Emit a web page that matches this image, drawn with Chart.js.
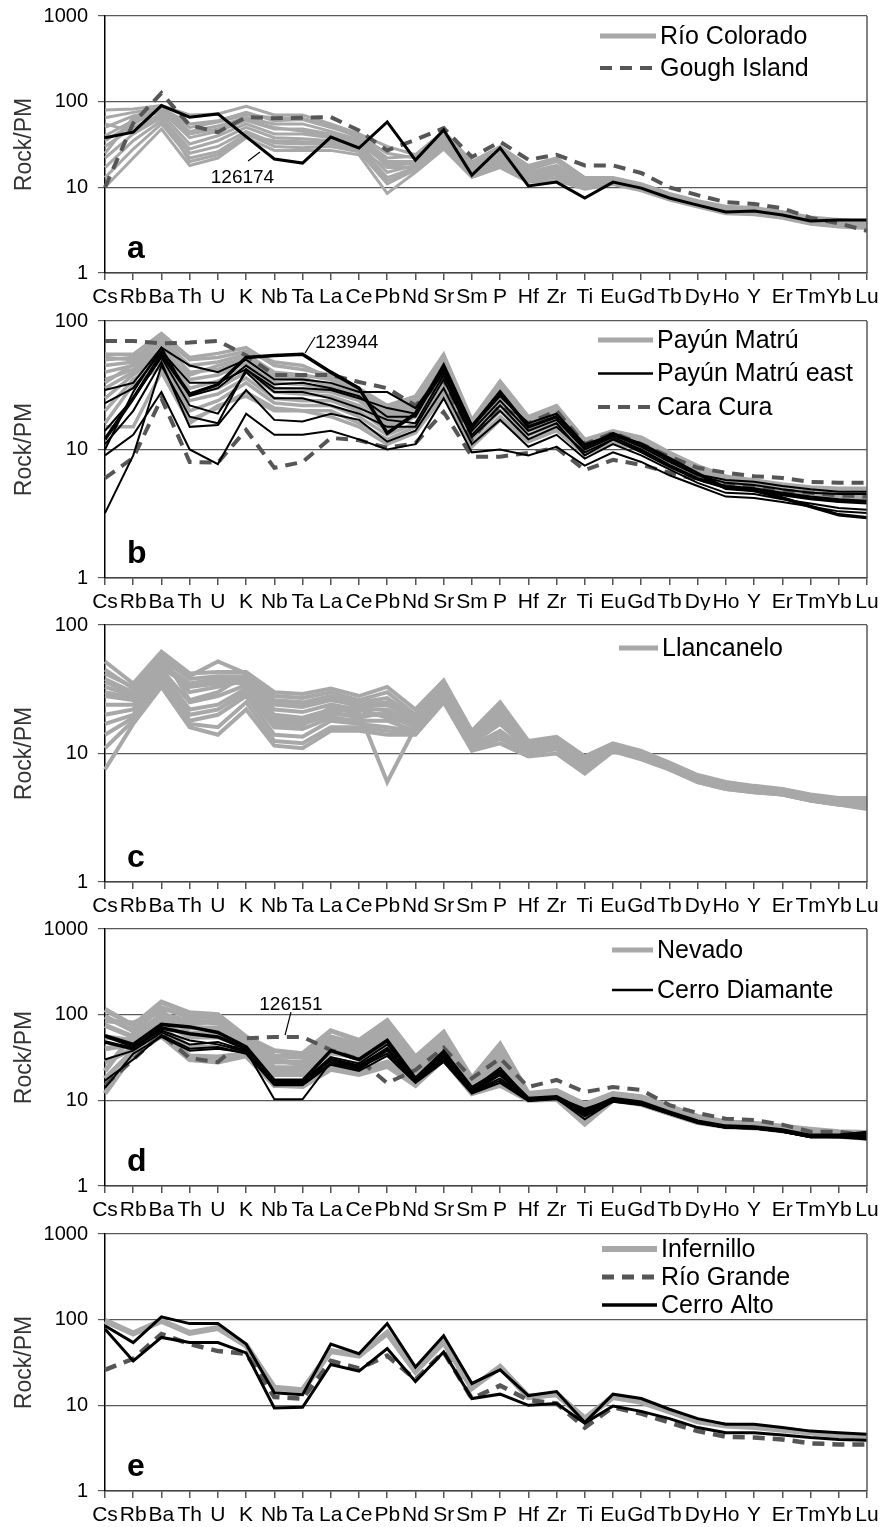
<!DOCTYPE html>
<html>
<head>
<meta charset="utf-8">
<script src="https://cdn.jsdelivr.net/npm/chart.js@4.4.1/dist/chart.umd.min.js"></script>
<style>
  html, body { margin: 0; padding: 0; background: #fff; }
  body { width: 882px; height: 1527px; position: relative; overflow: hidden; }
  .panel { position: absolute; left: 0; width: 882px; height: 320px; }
</style>
</head>
<body>
<div class="panel" style="top:0px"><canvas id="chartA" width="882" height="320"></canvas></div>
<div class="panel" style="top:305px"><canvas id="chartB" width="882" height="320"></canvas></div>
<div class="panel" style="top:609px"><canvas id="chartC" width="882" height="320"></canvas></div>
<div class="panel" style="top:913px"><canvas id="chartD" width="882" height="320"></canvas></div>
<div class="panel" style="top:1218px"><canvas id="chartE" width="882" height="320"></canvas></div>
<script>
const elements = ["Cs","Rb","Ba","Th","U","K","Nb","Ta","La","Ce","Pb","Nd","Sr","Sm","P","Hf","Zr","Ti","Eu","Gd","Tb","Dy","Ho","Y","Er","Tm","Yb","Lu"];
const decadeTicks = [1, 10, 100, 1000];

// --- panel a ---
const rioColorado = [
  [80,82,90,70,72,88,70,70,55,42,30,24,45,20,30,18,22,13,13,11,8.5,7,6,5.8,5.2,4.5,4.2,4],
  [65,75,85,55,60,75,60,62,50,40,25,22,42,18,28,16,20,12,12.5,10.5,8.2,6.8,5.8,5.6,5,4.3,4,3.9],
  [50,68,80,45,52,65,55,55,45,36,20,20,40,17,26,15,18,11.5,12,10.2,8,6.6,5.6,5.4,4.9,4.2,3.9,3.8],
  [40,60,78,38,45,60,48,48,42,34,18,19,38,16,24,14,17,11,11.8,10,7.8,6.5,5.5,5.3,4.8,4.1,3.8,3.7],
  [30,50,72,32,40,55,42,42,38,32,15,18,36,15,22,13.5,16,10.5,11.5,9.8,7.6,6.3,5.3,5.2,4.7,4,3.7,3.6],
  [22,42,65,28,35,50,38,37,35,30,13,17,34,15,21,13,15,10.2,11.3,9.6,7.5,6.2,5.2,5.1,4.6,3.9,3.6,3.5],
  [17,35,60,25,30,45,33,32,32,28,12,16,32,14,19,12.5,14,10,11.2,9.5,7.4,6.1,5.1,5,4.5,3.85,3.55,3.45],
  [13,28,55,22,26,42,30,29,30,26,11,16,30,13.5,18,12,13,9.8,11,9.3,7.3,6,5,4.9,4.45,3.8,3.5,3.4],
  [10,22,48,18,22,38,27,27,27,24,8.5,15,28,13,17,11.5,12,9.5,10.8,9.1,7.1,5.9,4.9,4.8,4.35,3.7,3.45,3.3],
  [35,55,82,50,58,70,65,64,52,38,22,23,44,19,29,17,21,12.5,12.8,10.8,8.3,6.9,5.9,5.7,5.1,4.4,4.1,3.9],
  [55,45,68,20,24,40,35,34,33,27,17,17,33,14,20,12.8,14.5,10.3,11.4,9.7,7.6,6.2,5.2,5,4.6,3.9,3.6,3.5],
  [25,65,75,42,48,62,50,45,40,33,19,19,37,16,23,14.5,17.5,11,11.8,10,7.8,6.4,5.4,5.3,4.8,4.1,3.8,3.65]
];
const goughIsland = [10,56,126,53,44,66,64,65,66,46,27,36,49,22.6,34,21,24,18,18,14.7,10,8.1,6.7,6.4,5.7,4.4,3.8,3.1];
const sample126174 = [38,44,90,66,72,39,21.4,19.2,38.6,28.8,58,20.8,46.7,13.9,28.8,10.4,11.5,7.5,11.5,9.8,7.5,6.2,5.15,5.3,4.75,4.05,4.15,4.15];

// --- panel b ---
const payunMatru = [
  [55,55,80,52,56,62,45,42,38,30,22,26,55,17,34,18,22,12,14,12.5,9.5,7.5,6.2,5.8,5.4,5.1,5,5],
  [50,52,72,45,48,55,40,38,35,28,20,24,50,16,31,17,21,11.5,13.5,12,9.2,7.2,6,5.6,5.2,4.9,4.8,4.8],
  [45,48,68,40,42,50,36,35,32,26,18,22,46,15,29,16,20,11,13,11.5,9,7,5.8,5.5,5.1,4.8,4.6,4.6],
  [40,45,65,35,38,47,33,32,30,25,17,21,43,14.5,27,15.5,19,10.8,12.8,11.3,8.8,6.8,5.7,5.4,5,4.7,4.5,4.5],
  [35,42,60,30,34,44,30,29,28,24,16,20,40,14,25,15,18,10.5,12.5,11,8.6,6.7,5.6,5.3,4.9,4.6,4.4,4.4],
  [30,40,56,27,30,40,28,27,26,22,15,19,37,13.5,24,14.5,17,10.2,12.2,10.8,8.5,6.6,5.5,5.2,4.8,4.5,4.3,4.3],
  [25,38,52,24,27,36,25,24,24,20,14,18,34,13,22,14,16.5,10,12,10.6,8.3,6.4,5.4,5.1,4.7,4.4,4.2,4.2],
  [20,35,48,20,24,33,23,22,22,18,13,16,31,12,20,13,16,9.8,11.8,10.4,8.1,6.3,5.3,5,4.6,4.3,4.1,4.1],
  [16,32,44,17,21,28,21,20,20,16,12,15,28,11,18,12,15,9.5,11.5,10.2,8,6.2,5.2,4.9,4.5,4.2,4,4],
  [52,50,76,50,52,58,48,45,36,29,21,25,52,16.5,32,17.5,21.5,11.8,13.8,12.2,9.3,7.3,6.1,5.7,5.3,5,4.9,4.9],
  [33,46,58,38,45,52,38,36,31,27,19,23,48,15.5,30,16.5,20.5,11.2,13.2,11.8,9,7,5.9,5.5,5.1,4.8,4.6,4.6],
  [15,15,40,16,22,26,20,20,18,15,11,13.5,26,10.5,17,11.5,14,9.2,11.2,10,7.9,6.1,5.1,4.8,4.5,4.2,4,4]
];
const payunMatruEast = [
  [29,33,62,45,40,50,35,35,33,28,28,21,42,15,26,16,19,11,13,10.5,8,6.3,5.5,5.3,4.9,4.6,4.5,4.5],
  [23,30,58,33,33,42,30,30,29,25,21,19,40,14,24,14,17,10,12.5,10,7.6,6,5.2,5,4.6,4.3,4.1,4],
  [14,25,52,22,19,40,25,25,22,19,15,15,35,12.5,20,12,15,9.5,12,9.5,7.3,5.8,5,4.8,4.4,4.1,3.9,3.8],
  [11,20,48,15,15.5,29,17,16.5,19,17,11.5,14,30,11,17,10.5,13,8.5,11,9,7,5.5,4.6,4.5,4.1,3.8,3.5,3.4],
  [9,13,28,10,7.7,19,13,13,14,12,10,11,25,9.5,10,9,10.5,7.5,9.5,8,6.3,5.2,4.3,4.2,3.9,3.6,3.3,3.2],
  [3.2,9,45,18,16,42,28,28,25,21,17,16,38,13,22,13,16,9,12,9.8,7.5,5.9,5.1,4.9,4.5,4.2,4,3.9],
  [10,28,62,26,30,45,32,33,30,26,18,18,43,15.5,27,15,18,10.5,13.5,11,8.3,6.4,5.8,5.6,5.2,4.9,4.7,4.7]
];
const sample123944 = [12,25,55,27,32,52,54,55,40,30,13.4,19,45,15,28,15,18,10.5,13,11,8.5,6.5,5,4.8,4.2,3.6,3.1,2.95];
const caraCura = [
  [70,70,67,68,70,54,38,38,38,33.5,30,22,35,12,22,16,20,11,13.5,11,8.8,7.2,6.6,6.2,6,5.6,5.5,5.5],
  [6,8.6,25,8,7.9,14.2,7.2,8,12.3,11.8,10.3,11.2,19.6,8.8,8.8,9.4,10.3,6.9,8.3,7.6,6.6,5.8,5.3,5.1,4.8,4.6,4.4,4.3]
];

// --- panel c ---
const llancanelo = [
  [52,35,62,42,43,43,30,29,32,28,33,22,37,15,25,12.5,13.5,9.5,12,10.5,8.5,6.8,6,5.6,5.3,4.8,4.5,4.5],
  [42,33,58,40,52,42,28,27,30,26,30,20,35,14.5,23,12,13,9.2,11.8,10.3,8.4,6.7,5.9,5.5,5.2,4.7,4.4,4.4],
  [38,30,55,38,40,40,26,25,28,25,27,19,34,14,21,11.8,12.8,9,11.6,10.1,8.3,6.6,5.8,5.4,5.1,4.6,4.3,4.3],
  [33,28,50,35,38,38,24,23,26,24,25,18,33,13.5,20,11.5,12.5,8.8,11.4,10,8.2,6.5,5.7,5.4,5.1,4.6,4.3,4.2],
  [28,26,48,33,35,36,22,21,24,22,22,17,32,13,19,11.2,12.2,8.6,11.2,9.8,8.1,6.4,5.6,5.3,5,4.5,4.2,4.1],
  [24,24,45,25,28,34,20,19,22,21,6,16,31,12.5,18,11,12,8.4,11,9.7,8,6.3,5.5,5.2,5,4.5,4.2,4],
  [20,22,42,22,24,32,18,17,20,20,20,16,30,12,17,10.8,11.8,8.2,10.9,9.6,7.9,6.3,5.5,5.2,4.9,4.4,4.1,4],
  [17,20,40,20,22,30,16,15.5,19,18,18,15,29,11.5,15,10.5,11.5,8,10.8,9.5,7.8,6.2,5.4,5.1,4.9,4.4,4.1,3.9],
  [14,19,38,18,20,28,14,13.5,18,17,16,15,28,11,14,10.2,11.2,7.8,10.6,9.3,7.7,6.1,5.4,5.1,4.8,4.3,4,3.9],
  [11,18,36,17,16,25,12.5,12,16,16,15,14.5,26,10.8,13,10,10.8,7.5,10.5,9.2,7.6,6,5.3,5,4.8,4.3,4,3.8],
  [7.5,17,33,16,14,22,11.5,11,15,15,14,14,25,10.5,12,9.5,10,7,10.4,9,7.5,6,5.3,5,4.8,4.3,4,3.7],
  [45,32,60,26,30,41,25,24,27,23,24,18,35,14,22,11.7,12.7,9,11.5,10.1,8.2,6.5,5.7,5.4,5.1,4.6,4.3,4.2],
  [30,27,52,30,33,37,19,18,21,19,21,17,33,13,20,11.4,12.4,8.7,11.3,9.9,8.1,6.4,5.6,5.3,5,4.5,4.2,4.1],
  [36,29,46,34,36,35,17,16.5,23,22,19,16.5,32,12.8,19,11,12,8.5,11.1,9.8,8,6.4,5.6,5.3,5,4.5,4.2,4.1]
];

// --- panel d ---
const nevado = [
  [115,75,140,105,100,55,38,35,65,50,85,32,62,18,45,12,13,9,12,11,8.5,6.5,5.6,5.4,5,4.6,4.3,4.2],
  [95,65,120,95,92,52,33,32,55,45,75,28,55,17,38,11.7,12.7,8.5,11.8,10.8,8.3,6.4,5.5,5.3,4.9,4.5,4.2,4.1],
  [75,55,100,85,80,48,28,28,48,40,65,26,50,16,32,11.5,12.5,8,11.5,10.5,8.1,6.3,5.4,5.2,4.8,4.4,4.1,4],
  [55,50,90,70,70,45,24,24,42,36,55,24,46,15.5,28,11.2,12.2,7.5,11.3,10.3,8,6.2,5.3,5.1,4.7,4.3,4,3.9],
  [40,45,80,55,55,42,20,20,36,32,45,22,42,15,25,11,12,7,11,10,7.8,6,5.2,5,4.6,4.2,3.95,3.85],
  [28,40,70,42,42,38,17,17,30,26,35,19,37,14,21,10.6,11.5,6.5,10.7,9.7,7.5,5.8,5.1,4.9,4.5,4.1,3.9,3.8],
  [18,38,62,33,32,35,15,15,25,22,28,16,32,13,17,10.3,10.8,5.5,10.3,9.3,7.2,5.6,5,4.8,4.4,4,3.8,3.65],
  [12,35,56,30,28,33,15,14.5,23,20,25,15,30,12,15,10,10.3,5.3,10,9,7,5.5,4.9,4.8,4.4,4,3.8,3.6],
  [85,80,110,60,62,50,30,26,50,42,60,25,48,16,30,11.4,12.3,7.8,11.4,10.4,8,6.2,5.3,5.1,4.7,4.3,4,3.9],
  [22,60,95,78,85,47,22,22,40,30,50,21,44,15,26,11,11.8,7.2,11.1,10.1,7.9,6.1,5.2,5,4.6,4.2,3.95,3.85]
];
const cerroDiamanteMain = [
  [57,45,77,72,62,42,17,17,38,30,50,18,37,14,22,10.5,11,7.5,10.5,9.5,7.3,5.7,5,4.9,4.5,3.9,3.9,4.2],
  [48,40,70,60,55,40,16,16,30,25,40,17,32,13,20,10.2,10.8,7,10,9.2,7.1,5.6,4.9,4.8,4.4,3.8,3.8,3.8]
];
const cerroDiamante = [
  [30,38,62,45,48,38,10.3,10.3,28,24,35,17,30,12.5,18,10,10.5,6,9.8,9,7,5.5,4.8,4.7,4.3,3.7,3.7,3.6],
  [17,30,58,40,42,35,15,15,26,22,33,16,28,12,16,9.8,10.3,6.5,9.6,8.8,6.9,5.4,4.8,4.7,4.3,3.7,3.7,3.5],
  [55,42,65,50,45,37,16.5,16.5,32,27,45,18,35,13.5,24,10.4,10.8,8,10.2,9.3,7.2,5.6,4.9,4.8,4.4,3.8,3.8,3.9],
  [14,35,55,38,40,36,15.5,15.5,27,23,38,16.5,29,12.2,17,9.9,10.4,6.8,9.7,8.9,7,5.5,4.8,4.7,4.3,3.7,3.7,3.6]
];
const sample126151 = [15,30,60,31,28,53,55,55,38.6,30,15.9,22.6,41,18,31,14.3,17.3,12.5,14.3,13.2,8.8,7.1,6.1,5.9,5.2,4.3,4.3,3.9];

// --- panel e ---
const infernillo = [97,69,97,70,80,50,16,15,43,38,70,25,55,16,28,12.5,13.5,7,12.5,11,8.5,6.5,5.8,5.6,5.2,4.8,4.5,4.3];
const rioGrande = [26,35,68,52,43,40,12.5,12,33,27,38,20,42,12,17,11.5,10.5,5.5,9.5,8,6.3,5,4.3,4.2,4,3.6,3.5,3.5];
const cerroAlto = [
  [85,54,108,90,90,52,14,13.3,52,40,90,28,65,18,26,13,14.5,6.3,13.5,12,9,7,6,6,5.5,5,4.8,4.6],
  [78,33,62,54,54,41,9.3,9.5,30,25,46,19,42,12,13.5,10,10.5,6.2,9.8,8.5,7,5.5,4.8,4.8,4.5,4.2,4,3.9]
];

const GREY = "#a8a8a8";
const DARK = "#565656";
const BLACK = "#000000";
const DASH = [12, 8];

Chart.defaults.font.family = "'Liberation Sans', Arial, sans-serif";
Chart.defaults.color = "#000";

const line = (data, color, width, dash, order) => ({
  data: data,
  borderColor: color,
  borderWidth: width,
  borderDash: dash || [],
  pointRadius: 0,
  tension: 0,
  fill: false,
  order: order,
});

// right border, panel letter, legend and sample notes
const panelDeco = {
  id: "panelDeco",
  afterDatasetsDraw(chart, args, opts) {
    const { ctx, chartArea: ca, scales } = chart;
    const x = scales.x, y = scales.y;
    ctx.save();
    ctx.strokeStyle = "#595959";
    ctx.lineWidth = 1.5;
    ctx.setLineDash([]);
    ctx.beginPath();
    ctx.moveTo(ca.right, ca.top);
    ctx.lineTo(ca.right, ca.bottom);
    ctx.stroke();

    ctx.fillStyle = "#000";
    ctx.font = "bold 32px 'Liberation Sans', Arial, sans-serif";
    ctx.textAlign = "left";
    ctx.textBaseline = "alphabetic";
    ctx.fillText(opts.letter, ca.left + 22, ca.bottom - 15);

    const lg = opts.legend;
    ctx.font = "25px 'Liberation Sans', Arial, sans-serif";
    ctx.textBaseline = "middle";
    lg.items.forEach((it, i) => {
      const ly = ca.top + lg.top + i * lg.step;
      ctx.strokeStyle = it.color;
      ctx.lineWidth = it.width;
      ctx.setLineDash(it.dash || []);
      ctx.beginPath();
      ctx.moveTo(lg.x0, ly);
      ctx.lineTo(lg.x1, ly);
      ctx.stroke();
      ctx.fillText(it.text, lg.x1 + 4, ly + 1);
    });

    ctx.setLineDash([]);
    ctx.font = "19px 'Liberation Sans', Arial, sans-serif";
    ctx.textAlign = "center";
    ctx.textBaseline = "alphabetic";
    (opts.notes || []).forEach((n) => {
      ctx.fillText(n.text, x.getPixelForValue(n.at[0]), y.getPixelForValue(n.at[1]));
      ctx.strokeStyle = "#000";
      ctx.lineWidth = 1.2;
      ctx.beginPath();
      ctx.moveTo(x.getPixelForValue(n.from[0]), y.getPixelForValue(n.from[1]));
      ctx.lineTo(x.getPixelForValue(n.to[0]), y.getPixelForValue(n.to[1]));
      ctx.stroke();
    });
    ctx.restore();
  },
};

function buildPanel(id, yMax, datasets, deco) {
  return new Chart(document.getElementById(id), {
    type: "line",
    data: { labels: elements, datasets: datasets },
    plugins: [panelDeco],
    options: {
      responsive: false,
      animation: false,
      layout: { padding: { top: 16, right: 15, left: 0, bottom: 15 } },
      plugins: {
        legend: { display: false },
        tooltip: { enabled: false },
        panelDeco: deco,
      },
      scales: {
        x: {
          type: "category",
          offset: false,
          grid: { drawOnChartArea: false, drawTicks: true, tickLength: 7, color: "#555", lineWidth: 1.5 },
          border: { display: true, color: "#444", width: 1.5 },
          ticks: { autoSkip: false, maxRotation: 0, minRotation: 0, padding: 5, font: { size: 21 }, color: "#000" },
          afterFit: (scale) => {
            scale.height = 32;
            scale.paddingLeft = 0;
            scale.paddingRight = 0;
          },
        },
        y: {
          type: "logarithmic",
          min: 1,
          max: yMax,
          grid: { color: "#595959", lineWidth: 1.2, drawTicks: true, tickLength: 7 },
          border: { display: true, color: "#000", width: 1.5 },
          ticks: { padding: 10, font: { size: 20 }, color: "#000", callback: (v) => String(v) },
          title: { display: true, text: "Rock/PM", font: { size: 23 }, color: "#333", padding: { top: 11, bottom: 0 } },
          afterBuildTicks: (scale) => {
            scale.ticks = decadeTicks.filter((v) => v <= yMax).map((v) => ({ value: v }));
          },
          afterFit: (scale) => {
            scale.width = 105;
            scale.paddingTop = 0;
            scale.paddingBottom = 0;
          },
        },
      },
    },
  });
}

buildPanel("chartA", 1000, [
  ...rioColorado.map((d) => line(d, GREY, 3, null, 3)),
  line(goughIsland, DARK, 4, DASH, 2),
  line(sample126174, BLACK, 3, null, 1),
], {
  letter: "a",
  legend: { x0: 600, x1: 656, top: 20, step: 32, items: [
    { text: "Río Colorado", color: GREY, width: 5 },
    { text: "Gough Island", color: DARK, width: 4, dash: DASH },
  ] },
  notes: [{ text: "126174", at: [4.87, 11.2], from: [5.07, 20.3], to: [5.49, 25.8] }],
});

buildPanel("chartB", 100, [
  ...payunMatru.map((d) => line(d, GREY, 3.5, null, 4)),
  ...caraCura.map((d) => line(d, DARK, 4, DASH, 3)),
  ...payunMatruEast.map((d) => line(d, BLACK, 2, null, 2)),
  line(sample123944, BLACK, 3.5, null, 1),
], {
  letter: "b",
  legend: { x0: 598, x1: 653, top: 19, step: 33.5, items: [
    { text: "Payún Matrú", color: GREY, width: 5 },
    { text: "Payún Matrú east", color: BLACK, width: 2.5 },
    { text: "Cara Cura", color: DARK, width: 4, dash: DASH },
  ] },
  notes: [{ text: "123944", at: [8.56, 61.6], from: [7.09, 56.4], to: [7.44, 75] }],
});

buildPanel("chartC", 100, [
  ...llancanelo.map((d) => line(d, GREY, 4, null, 1)),
], {
  letter: "c",
  legend: { x0: 619, x1: 658, top: 23, step: 33, items: [
    { text: "Llancanelo", color: GREY, width: 5 },
  ] },
});

buildPanel("chartD", 1000, [
  ...nevado.map((d) => line(d, GREY, 5, null, 4)),
  line(sample126151, DARK, 4, DASH, 3),
  ...cerroDiamante.map((d) => line(d, BLACK, 2, null, 2)),
  ...cerroDiamanteMain.map((d) => line(d, BLACK, 3.5, null, 1)),
], {
  letter: "d",
  legend: { x0: 612, x1: 653, top: 21, step: 40, items: [
    { text: "Nevado", color: GREY, width: 5 },
    { text: "Cerro Diamante", color: BLACK, width: 2.5 },
  ] },
  notes: [{ text: "126151", at: [6.59, 113], from: [6.59, 107], to: [6.38, 57.8] }],
});

buildPanel("chartE", 1000, [
  line(infernillo, GREY, 6, null, 3),
  line(rioGrande, DARK, 4.5, DASH, 2),
  ...cerroAlto.map((d) => line(d, BLACK, 3, null, 1)),
], {
  letter: "e",
  legend: { x0: 602, x1: 657, top: 15, step: 28, items: [
    { text: "Infernillo", color: GREY, width: 6 },
    { text: "Río Grande", color: DARK, width: 5, dash: DASH },
    { text: "Cerro Alto", color: BLACK, width: 3.5 },
  ] },
});
</script>
</body>
</html>
